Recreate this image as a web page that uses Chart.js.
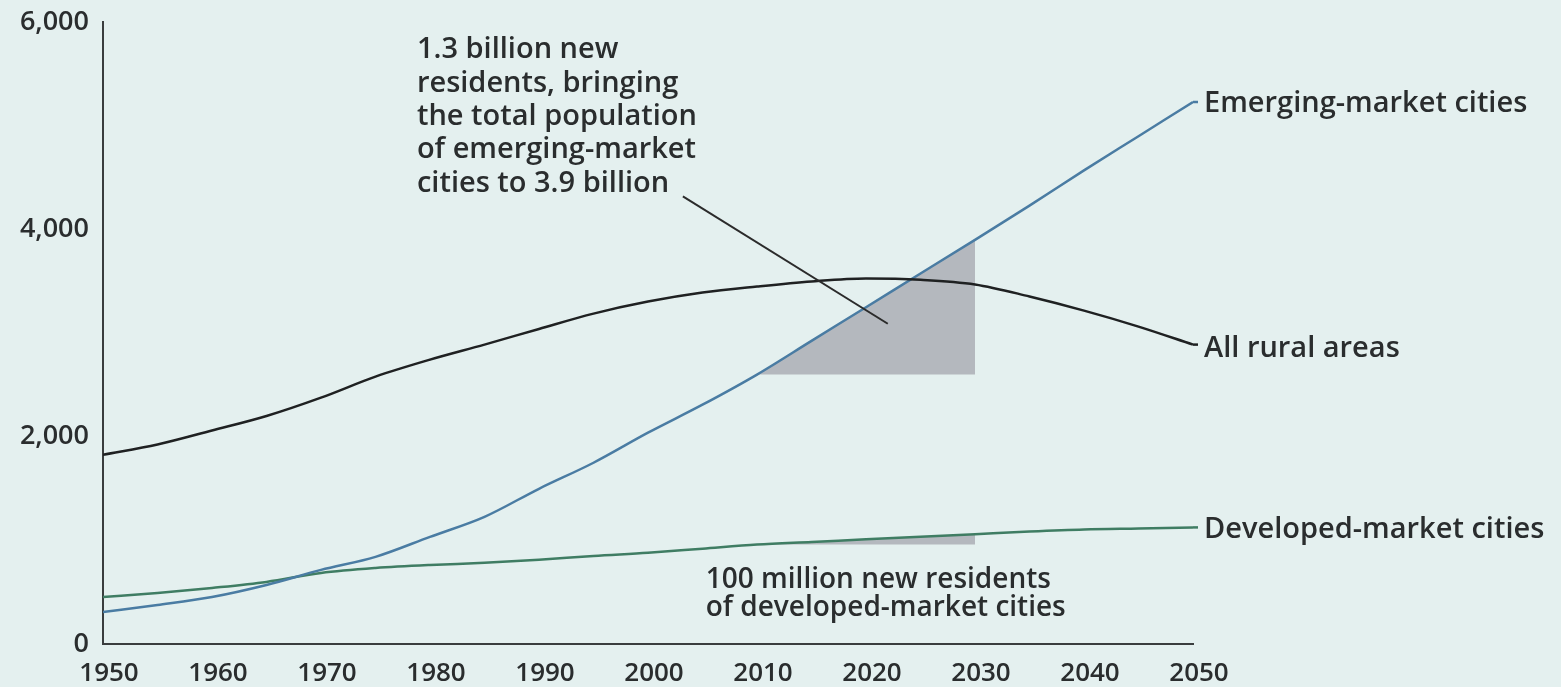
<!DOCTYPE html>
<html>
<head>
<meta charset="utf-8">
<script src="https://cdn.jsdelivr.net/npm/chart.js@4.4.1/dist/chart.umd.min.js"></script>
<style>
  html, body { margin: 0; padding: 0; background: #e4f0ef; }
  #wrap { width: 1561px; height: 687px; position: relative; }
</style>
</head>
<body>
<div id="wrap"><canvas id="urbanChart"></canvas></div>
<script>
// Population in millions, 5-year steps
const years = [1950, 1955, 1960, 1965, 1970, 1975, 1980, 1985, 1990, 1995, 2000,
               2005, 2010, 2015, 2020, 2025, 2030, 2035, 2040, 2045, 2050];
const ruralAreas = [1826, 1925, 2060, 2200, 2377, 2580, 2744, 2889, 3040, 3188, 3304,
                    3391, 3449, 3498, 3527, 3515, 3470, 3353, 3217, 3063, 2889];
const emergingCities = [309, 377, 454, 570, 715, 841, 1034, 1227, 1498, 1749, 2039,
                        2309, 2600, 2925, 3250, 3575, 3900, 4230, 4570, 4900, 5230];
const developedCities = [454, 493, 541, 599, 686, 734, 763, 783, 812, 850, 880,
                         920, 960, 985, 1010, 1035, 1060, 1085, 1105, 1115, 1125];
const yTicks = [0, 2000, 4000, 6000];

const seriesNames = ['Emerging-market cities', 'All rural areas', 'Developed-market cities'];

const emergingNote = ['1.3 billion new', 'residents, bringing', 'the total population',
                      'of emerging-market', 'cities to 3.9 billion'];
const developedNote = ['100 million new residents', 'of developed-market cities'];

const FONT = '"Open Sans", "DejaVu Sans", sans-serif';
const INK = '#2a2d2e';

const toPoints = (vals) => years.map((y, i) => ({ x: y, y: vals[i] }));
const slice = (vals, from, to) => toPoints(vals).filter(p => p.x >= from && p.x <= to);

// shaded growth wedges 2010 -> 2030
const emergingBase = emergingCities[years.indexOf(2010)];
const developedBase = developedCities[years.indexOf(2010)];

const labelsPlugin = {
  id: 'seriesLabels',
  afterDatasetsDraw(chart) {
    const { ctx, scales: { x, y } } = chart;
    ctx.save();
    ctx.fillStyle = INK;
    ctx.textBaseline = 'middle';

    // end-of-line labels with short leaders
    ctx.font = '600 29px ' + FONT;
    const ends = [
      { name: seriesNames[0], v: emergingCities[20], color: '#4a7ca3', dy: 2 },
      { name: seriesNames[1], v: ruralAreas[20], color: '#1f2122', dy: 4 },
      { name: seriesNames[2], v: developedCities[20], color: '#3f7d63', dy: 2 }
    ];
    const xe = x.getPixelForValue(2050);
    ends.forEach(e => {
      const py = y.getPixelForValue(e.v);
      ctx.strokeStyle = e.color;
      ctx.lineWidth = 2.5;
      ctx.beginPath();
      ctx.moveTo(xe, py);
      ctx.lineTo(xe + 5, py);
      ctx.stroke();
      ctx.fillText(e.name, xe + 11, py + e.dy);
    });

    // callout for emerging-market growth
    ctx.strokeStyle = '#2b2b2b';
    ctx.lineWidth = 2;
    ctx.beginPath();
    ctx.moveTo(x.getPixelForValue(2003.2), y.getPixelForValue(4320));
    ctx.lineTo(x.getPixelForValue(2022.0), y.getPixelForValue(3090));
    ctx.stroke();

    ctx.font = '600 29px ' + FONT;
    const ax = x.getPixelForValue(1978.8);
    let ay = y.getPixelForValue(5730);
    emergingNote.forEach(line => { ctx.fillText(line, ax, ay); ay += 33.3; });

    ctx.font = '600 28px ' + FONT;
    const bx = x.getPixelForValue(2005.3);
    let by = y.getPixelForValue(620);
    developedNote.forEach(line => { ctx.fillText(line, bx, by); by += 28; });
    ctx.restore();
  }
};

const ctx = document.getElementById('urbanChart').getContext('2d');
new Chart(ctx, {
  type: 'line',
  data: {
    datasets: [
      {
        label: seriesNames[0],
        data: toPoints(emergingCities),
        borderColor: '#4a7ca3',
        borderWidth: 2.5,
        pointRadius: 0,
        cubicInterpolationMode: 'monotone',
        order: 1
      },
      {
        label: seriesNames[1],
        data: toPoints(ruralAreas),
        borderColor: '#1f2122',
        borderWidth: 2.5,
        pointRadius: 0,
        cubicInterpolationMode: 'monotone',
        order: 0
      },
      {
        label: seriesNames[2],
        data: toPoints(developedCities),
        borderColor: '#3f7d63',
        borderWidth: 2.5,
        pointRadius: 0,
        cubicInterpolationMode: 'monotone',
        order: 2
      },
      {
        label: 'emerging wedge',
        data: slice(emergingCities, 2010, 2030),
        borderWidth: 0,
        pointRadius: 0,
        backgroundColor: '#b4b8be',
        fill: { value: emergingBase },
        cubicInterpolationMode: 'monotone',
        order: 10
      },
      {
        label: 'developed wedge',
        data: slice(developedCities, 2010, 2030),
        borderWidth: 0,
        pointRadius: 0,
        backgroundColor: '#b4b8be',
        fill: { value: developedBase },
        cubicInterpolationMode: 'monotone',
        order: 11
      }
    ]
  },
  options: {
    responsive: true,
    maintainAspectRatio: false,
    animation: false,
    layout: { padding: { top: 21, right: 368, left: 0, bottom: 0 } },
    plugins: {
      legend: { display: false },
      tooltip: { enabled: false }
    },
    scales: {
      x: {
        type: 'linear',
        min: 1950,
        max: 2050,
        grid: { display: false },
        border: { display: true, color: '#3a3d3e', width: 2 },
        afterFit: (s) => { s.height = 43; },
        ticks: {
          stepSize: 10,
          padding: 6,
          labelOffset: 6,
          color: INK,
          font: { family: FONT, size: 26, weight: '600' },
          maxRotation: 0,
          callback: (v) => String(v)
        }
      },
      y: {
        min: 0,
        max: 6000,
        grid: { display: false },
        border: { display: true, color: '#3a3d3e', width: 2 },
        afterFit: (s) => { s.width = 103; },
        afterBuildTicks: (s) => { s.ticks = yTicks.map(v => ({ value: v })); },
        ticks: {
          padding: 6,
          color: INK,
          font: { family: FONT, size: 27, weight: '600' },
          callback: (v) => v.toLocaleString('en-US')
        }
      }
    }
  },
  plugins: [labelsPlugin]
});
</script>
</body>
</html>
